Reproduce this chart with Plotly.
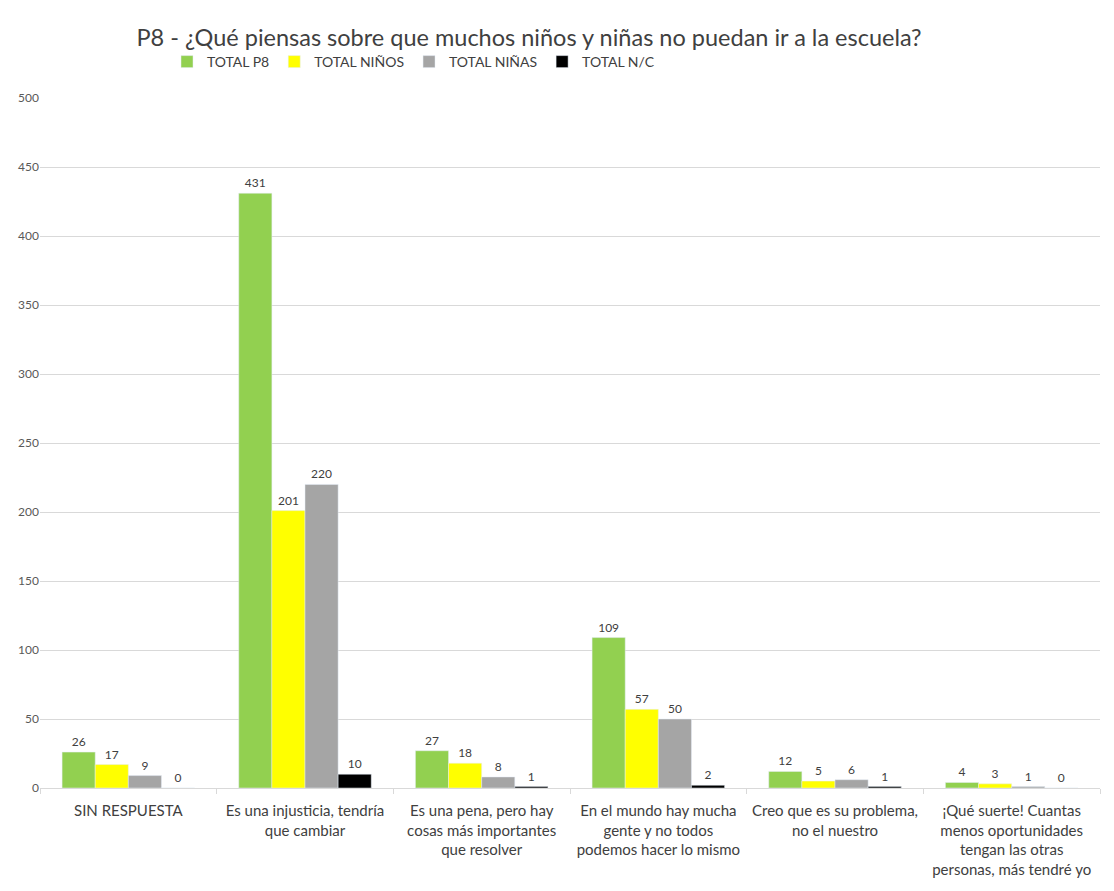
import plotly.graph_objects as go

categories = [
    "SIN RESPUESTA",
    "Es una injusticia, tendría<br>que cambiar",
    "Es una pena, pero hay<br>cosas más importantes<br>que resolver",
    "En el mundo hay mucha<br>gente y no todos<br>podemos hacer lo mismo",
    "Creo que es su problema,<br>no el nuestro",
    "¡Qué suerte! Cuantas<br>menos oportunidades<br>tengan las otras<br>personas, más tendré yo",
]
total_p8 = [26, 431, 27, 109, 12, 4]
total_ninos = [17, 201, 18, 57, 5, 3]
total_ninas = [9, 220, 8, 50, 6, 1]
total_nc = [0, 10, 1, 2, 1, 0]

series = [
    ("TOTAL P8", total_p8, "#92D050"),
    ("TOTAL NIÑOS", total_ninos, "#FFFF00"),
    ("TOTAL NIÑAS", total_ninas, "#A5A5A5"),
    ("TOTAL N/C", total_nc, "#000000"),
]

FONT = "Lato"
W, H = 1106, 883  # page body adds an 8px offset
fig = go.Figure()
for name, vals, color in series:
    fig.add_trace(go.Bar(
        name=name, x=categories, y=vals, marker_color=color,
        text=[str(v) for v in vals], textposition="outside",
        textfont=dict(size=12, color="#404040", family=FONT),
        cliponaxis=False,
    ))

fig.update_layout(
    width=W, height=H,
    paper_bgcolor="white", plot_bgcolor="white",
    margin=dict(l=32, r=14, t=90, b=103, autoexpand=False),
    barmode="group", bargap=0.25, bargroupgap=0,
    font=dict(family=FONT, color="#404040"),
    title=dict(text="P8 - ¿Qué piensas sobre que muchos niños y niñas no puedan ir a la escuela?",
               x=521/W, xanchor="center", y=1 - 30/H, yanchor="middle",
               font=dict(size=23.5, color="#404040", family=FONT)),
    legend=dict(orientation="h", x=127/1060, xanchor="left", yref="container",
                y=1 - 54/H, yanchor="middle",
                font=dict(size=14, color="#404040", family=FONT), traceorder="normal"),
)
fig.update_yaxes(range=[0, 500], dtick=50, showgrid=True, gridcolor="#D9D9D9", gridwidth=1,
                 zeroline=False, tickfont=dict(size=12, color="#595959", family=FONT),
                 ticks="", showline=False)
fig.update_xaxes(showline=True, linecolor="#D9D9D9", ticks="outside", tickson="boundaries",
                 tickcolor="#D9D9D9", ticklen=5, tickangle=0, ticklabelstandoff=9,
                 tickfont=dict(size=15, color="#404040", family=FONT))
fig.write_html("out.html")
